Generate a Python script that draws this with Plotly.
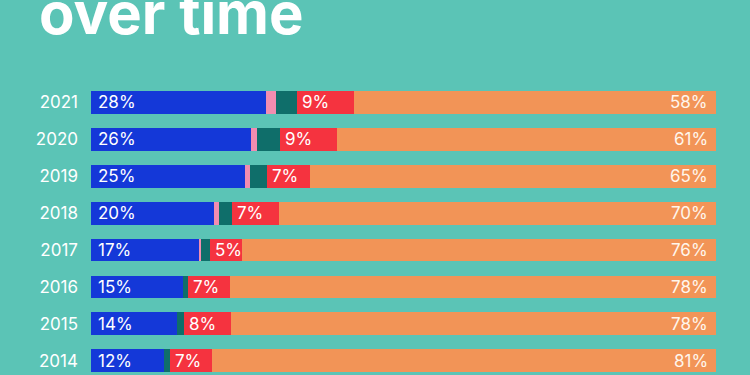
import plotly.graph_objects as go

years = ["2014", "2015", "2016", "2017", "2018", "2019", "2020", "2021"]
blue = [11.6, 13.8, 14.7, 17.2, 19.6, 24.7, 25.6, 28.0]
pink = [0.0, 0.0, 0.0, 0.4, 0.9, 0.8, 0.9, 1.6]
teal = [1.0, 1.0, 0.8, 1.4, 2.1, 2.7, 3.8, 3.4]
red = [6.8, 7.6, 6.8, 5.2, 7.4, 6.9, 9.1, 9.0]
orange = [80.6, 77.6, 77.7, 75.8, 70.0, 64.9, 60.6, 58.0]

BG = "#5BC4B6"
FONT = "Inter"
series = [
    (blue, "#1438D8"),
    (pink, "#F28DB0"),
    (teal, "#0F6E6A"),
    (red, "#F5333F"),
    (orange, "#F29457"),
]

fig = go.Figure()
for vals, col in series:
    fig.add_trace(go.Bar(
        y=years, x=vals, orientation="h",
        marker=dict(color=col, line=dict(width=0)),
        width=0.62, hoverinfo="skip", showlegend=False,
    ))

ann = []
for i, y in enumerate(years):
    ann.append(dict(x=0, y=i, xref="x", yref="y", text=f"{blue[i]:.0f}%",
                    xanchor="left", yanchor="middle", xshift=5, showarrow=False,
                    font=dict(family=FONT, size=17, color="white")))
    rstart = blue[i] + pink[i] + teal[i]
    ann.append(dict(x=rstart, y=i, xref="x", yref="y", text=f"{red[i]:.0f}%",
                    xanchor="left", yanchor="middle", xshift=3, showarrow=False,
                    font=dict(family=FONT, size=17, color="white")))
    ann.append(dict(x=100, y=i, xref="x", yref="y", text=f"{orange[i]:.0f}%",
                    xanchor="right", yanchor="middle", xshift=-6, showarrow=False,
                    font=dict(family=FONT, size=17, color="#FFF6EC")))

ann.append(dict(x=(37 - 91) / 625, y=1.2423, xref="paper", yref="paper",
                text="<b>over time</b>",
                xanchor="left", yanchor="middle", showarrow=False,
                font=dict(family=FONT, size=58, color="white")))

fig.update_layout(
    barmode="stack",
    width=750, height=375,
    margin=dict(l=91, r=34, t=84, b=0, autoexpand=False),
    paper_bgcolor=BG, plot_bgcolor=BG,
    bargap=0,
    xaxis=dict(range=[0, 100], visible=False, fixedrange=True),
    yaxis=dict(type="category", categoryorder="array", categoryarray=years,
               range=[-0.386, 7.5], showgrid=False, zeroline=False, showline=False,
               ticks="", ticklabelstandoff=12, fixedrange=True,
               tickfont=dict(family=FONT, size=17, color="white")),
    annotations=ann,
)

fig.write_html(
    "out.html",
    config={"displayModeBar": False},
    post_script="document.body.style.margin='0';document.body.style.overflow='hidden';",
)
